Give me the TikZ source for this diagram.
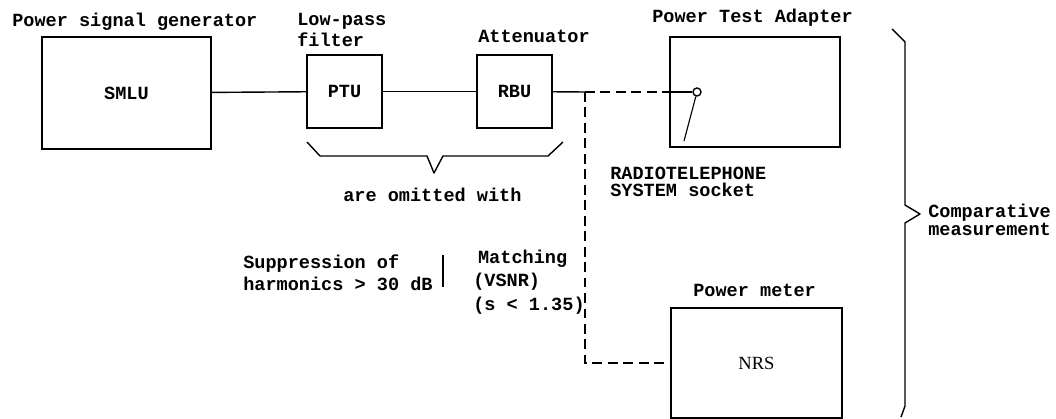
\documentclass[tikz,border=0pt]{standalone}
\usepackage{fontspec}
\setmainfont{Liberation Mono}
\newfontfamily\nrsfont{Liberation Serif}

\begin{document}
\begin{tikzpicture}[
    x=0.025cm,y=-0.025cm,
    font=\fontsize{13.2}{15.6}\selectfont\bfseries,
    blk/.style={draw,line width=1.6pt,inner sep=0pt},
    wire/.style={line width=1pt},
    feed/.style={wire,dash pattern=on 7pt off 4pt},
    lbl/.style={anchor=base west,inner sep=0pt,align=left},
    tight/.style={font=\fontsize{13.2}{12.1}\selectfont\bfseries},
    brace/.style={line width=1pt,line join=round}
  ]
  \useasboundingbox (0,0) rectangle (1056,419);

  % signal chain
  \node[blk,minimum width=4.225cm,minimum height=2.8cm] (smlu) at (126.5,93) {SMLU};
  \node[blk,minimum width=1.875cm,minimum height=1.825cm] (ptu) at (344.5,91.5) {PTU};
  \node[blk,minimum width=1.875cm,minimum height=1.825cm] (rbu) at (514.5,91.5) {RBU};
  \node[blk,minimum width=4.25cm,minimum height=2.75cm] (pta) at (755,92) {};
  \node[blk,minimum width=4.275cm,minimum height=2.75cm] (nrs) at (756.5,363) {\nrsfont\mdseries NRS};
  \node[draw,circle,line width=1pt,fill=white,minimum size=0.2cm,inner sep=0pt] (sock) at (697,92) {};

  \coordinate (junc) at (585,92);
  \coordinate (tip) at (684,141);

  \draw[wire] (smlu) -- (ptu);
  \draw[wire] (ptu) -- (rbu);
  \draw[wire] (rbu) -- (junc);
  \draw[feed] (junc) -- (pta.west);
  \draw[wire] (pta.west) -- (sock);
  \draw[feed] (junc) |- (nrs.west);
  \draw[line width=0.8pt] (sock) -- (tip);

  % labels (base of the last line)
  \node[lbl] (gen) at (12,27) {Power signal generator};
  \node[lbl] (lpf) at (297,47) {Low-pass\\filter};
  \node[lbl] (att) at (478,43) {Attenuator};
  \node[lbl] (ptal) at (652,23) {Power Test Adapter};
  \node[lbl,tight] (sockl) at (610,197) {RADIOTELEPHONE\\SYSTEM socket};
  \node[lbl] (omit) at (343,202) {are omitted with};
  \node[lbl] (supp) at (243,290) {Suppression of\\harmonics > 30 dB};
  \node[lbl,font=\fontsize{13.2}{16.5}\selectfont\bfseries] (match) at (473,310) {\hspace*{0.12cm}Matching\\(VSNR)\\(s < 1.35)};
  \node[lbl] (pml) at (693,296) {Power meter};
  \node[lbl,tight] (comp) at (928,235) {Comparative\\measurement};

  % braces
  \draw[brace] (307,142) -- (320,156) -- (427,156) -- (434,173) -- (443,156) -- (548,156) -- (563,142);
  \draw[brace] (892,29) -- (905,42) -- (905,205) -- (920,214) -- (905,223) -- (905,406) -- (901,417);
  \draw[line width=1.4pt] (443,255) -- (443,287);
\end{tikzpicture}
\end{document}
